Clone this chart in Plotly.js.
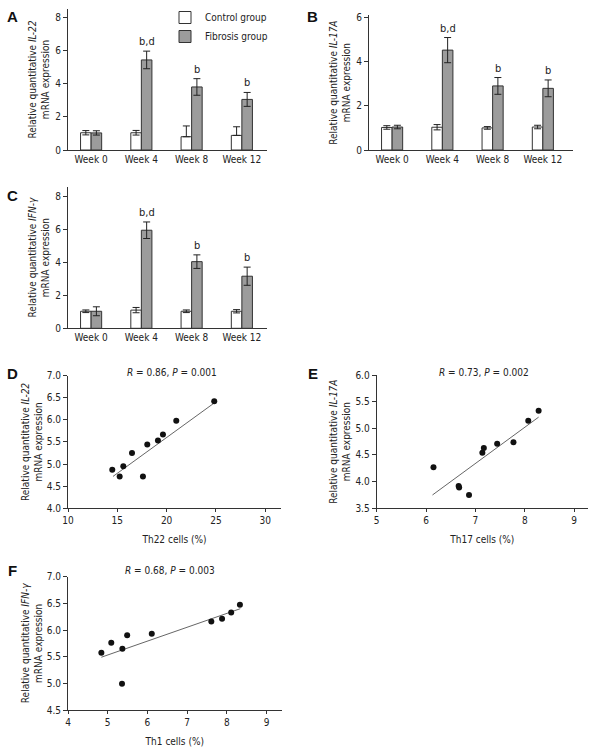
<!DOCTYPE html>
<html><head><meta charset="utf-8">
<script src="https://cdn.plot.ly/plotly-3.0.1.min.js"></script>
<style>html,body{margin:0;padding:0;background:#fff}#chart{width:600px;height:753px}</style>
</head><body><div id="chart"></div>
<script>
// ---- data ----
const weeks = ['Week 0', 'Week 4', 'Week 8', 'Week 12'];

const il22Control = [1.04, 1.04, 0.80, 0.88];
const il22ControlErrUp = [0.13, 0.14, 0.65, 0.52];
const il22ControlErrDown = [0.13, 0.14, 0, 0];
const il22Fibrosis = [1.03, 5.43, 3.80, 3.05];
const il22FibrosisErr = [0.13, 0.53, 0.50, 0.42];
const il22Marks = ['', 'b,d', 'b', 'b'];

const il17Control = [1.02, 1.03, 1.00, 1.04];
const il17ControlErr = [0.08, 0.12, 0.06, 0.08];
const il17Fibrosis = [1.04, 4.52, 2.90, 2.79];
const il17FibrosisErr = [0.08, 0.57, 0.38, 0.38];
const il17Marks = ['', 'b,d', 'b', 'b'];

const ifnControl = [1.03, 1.10, 1.03, 1.03];
const ifnControlErr = [0.08, 0.16, 0.08, 0.10];
const ifnFibrosis = [1.03, 5.93, 4.03, 3.15];
const ifnFibrosisErr = [0.27, 0.50, 0.41, 0.55];
const ifnMarks = ['', 'b,d', 'b', 'b'];

const th22Cells = [14.49, 15.24, 15.61, 16.49, 17.60, 18.04, 19.12, 19.63, 20.98, 24.83];
const th22IL22 = [4.87, 4.72, 4.95, 5.25, 4.72, 5.44, 5.53, 5.67, 5.98, 6.42];
const th22FitX = [14.56, 24.76];
const th22FitY = [4.72, 6.37];

const th17Cells = [6.15, 6.66, 6.67, 6.87, 7.14, 7.17, 7.44, 7.77, 8.07, 8.28];
const th17IL17 = [4.27, 3.92, 3.89, 3.75, 4.54, 4.63, 4.71, 4.74, 5.14, 5.33];
const th17FitX = [6.13, 8.28];
const th17FitY = [3.75, 5.21];

const th1Cells = [4.84, 5.09, 5.37, 5.36, 5.49, 6.11, 7.61, 7.88, 8.11, 8.33];
const th1IFN = [5.575, 5.76, 5.65, 4.99, 5.90, 5.93, 6.16, 6.21, 6.33, 6.475];
const th1FitX = [4.84, 8.34];
const th1FitY = [5.49, 6.40];

const statD = '<i>R</i> = 0.86, <i>P</i> = 0.001';
const statE = '<i>R</i> = 0.73, <i>P</i> = 0.002';
const statF = '<i>R</i> = 0.68, <i>P</i> = 0.003';

// ---- style ----
const FONT = "'DejaVu Sans Condensed', 'DejaVu Sans', sans-serif";
const TXT = '#222';
const W = 600, H = 753;
const px = v => v / W;
const py = v => 1 - v / H;

function barPair(xa, ya, ctrl, ctrlUp, ctrlDown, fib, fibErr, legend) {
  return [
    {type: 'bar', name: 'Control group', x: weeks, y: ctrl, xaxis: xa, yaxis: ya,
     showlegend: legend, legendgroup: 'c',
     marker: {color: '#ffffff', line: {color: '#333', width: 1}},
     error_y: {type: 'data', symmetric: false, array: ctrlUp, arrayminus: ctrlDown, color: '#222', thickness: 1, width: 3.5}},
    {type: 'bar', name: 'Fibrosis group', x: weeks, y: fib, xaxis: xa, yaxis: ya,
     showlegend: legend, legendgroup: 'f',
     marker: {color: '#9c9c9c', line: {color: '#333', width: 1}},
     error_y: {type: 'data', array: fibErr, color: '#222', thickness: 1, width: 3.5}}
  ];
}
function scatterPair(xa, ya, xs, ys, fx, fy) {
  return [
    {type: 'scatter', mode: 'lines', x: fx, y: fy, xaxis: xa, yaxis: ya, showlegend: false,
     line: {color: '#666', width: 1}},
    {type: 'scatter', mode: 'markers', x: xs, y: ys, xaxis: xa, yaxis: ya, showlegend: false,
     marker: {size: 6, color: '#111'}}
  ];
}

const data = [
  ...barPair('x', 'y', il22Control, il22ControlErrUp, il22ControlErrDown, il22Fibrosis, il22FibrosisErr, true),
  ...barPair('x2', 'y2', il17Control, il17ControlErr, il17ControlErr, il17Fibrosis, il17FibrosisErr, false),
  ...barPair('x3', 'y3', ifnControl, ifnControlErr, ifnControlErr, ifnFibrosis, ifnFibrosisErr, false),
  ...scatterPair('x4', 'y4', th22Cells, th22IL22, th22FitX, th22FitY),
  ...scatterPair('x5', 'y5', th17Cells, th17IL17, th17FitX, th17FitY),
  ...scatterPair('x6', 'y6', th1Cells, th1IFN, th1FitX, th1FitY)
];

const tickfont = {family: FONT, size: 10, color: TXT};
const titlefont = {family: FONT, size: 10, color: TXT};
function yax(dom, range, dtick, title, anchor, fmt, so) {
  return {domain: dom, range: range, dtick: dtick, anchor: anchor, showgrid: false, zeroline: false,
    showline: true, linecolor: '#333', linewidth: 1, ticks: 'outside', ticklen: 4, tickcolor: '#333',
    tickfont: tickfont, tickformat: fmt || '', fixedrange: true,
    title: {text: title, font: titlefont, standoff: so}};
}
function xcat(dom, range, anchor) {
  return {domain: dom, range: range, type: 'category', anchor: anchor, showgrid: false, zeroline: false,
    showline: true, linecolor: '#333', linewidth: 1, ticks: '', tickfont: tickfont, fixedrange: true};
}
function xlin(dom, range, dtick, title, anchor) {
  return {domain: dom, range: range, dtick: dtick, anchor: anchor, showgrid: false, zeroline: false,
    showline: true, linecolor: '#333', linewidth: 1, ticks: 'outside', ticklen: 3, tickcolor: '#333',
    tickfont: tickfont, fixedrange: true, title: {text: title, font: titlefont, standoff: 10}};
}

const annotations = [];
function letter(t, x, y) {
  annotations.push({text: '<b>' + t + '</b>', xref: 'paper', yref: 'paper', x: px(x), y: py(y),
    xanchor: 'center', yanchor: 'middle', showarrow: false,
    font: {family: "'Liberation Sans', Arial, sans-serif", size: 15, color: '#111'}});
}
letter('A', 12, 17); letter('B', 312, 17); letter('C', 12, 195);
letter('D', 12, 373); letter('E', 313, 373); letter('F', 12, 570);

function marks(xa, ya, labels, vals, errs) {
  labels.forEach((t, i) => {
    if (!t) return;
    annotations.push({text: t, xref: xa, yref: ya, x: i + 0.105, y: vals[i] + errs[i],
      xanchor: 'center', yanchor: 'bottom', yshift: 1, showarrow: false,
      font: {family: FONT, size: 11, color: TXT}});
  });
}
marks('x', 'y', il22Marks, il22Fibrosis, il22FibrosisErr);
marks('x2', 'y2', il17Marks, il17Fibrosis, il17FibrosisErr);
marks('x3', 'y3', ifnMarks, ifnFibrosis, ifnFibrosisErr);

function stat(t, x, y) {
  annotations.push({text: t, xref: 'paper', yref: 'paper', x: px(x), y: py(y),
    xanchor: 'center', yanchor: 'middle', showarrow: false, font: {family: FONT, size: 10, color: TXT}});
}
stat(statD, 172, 372); stat(statE, 484, 372); stat(statF, 170, 570);

const layout = {
  width: W, height: H, margin: {l: 0, r: 0, t: 0, b: 0},
  paper_bgcolor: '#fff', plot_bgcolor: 'rgba(0,0,0,0)',
  barmode: 'group', bargap: 0.58, bargroupgap: 0,
  font: {family: FONT, size: 10, color: TXT},
  showlegend: true,
  legend: {x: px(165), y: py(3), xanchor: 'left', yanchor: 'top', bgcolor: 'rgba(0,0,0,0)',
    font: {family: FONT, size: 10, color: TXT}, tracegroupgap: 0},
  xaxis: xcat([px(68), px(267)], [-0.46, 3.5], 'y'),
  yaxis: yax([py(150), py(9)], [0, 8.5], 2, 'Relative quantitative <i>IL-22</i><br>mRNA expression', 'x', '', 3),
  xaxis2: xcat([px(369), px(573)], [-0.46, 3.6], 'y2'),
  yaxis2: yax([py(150), py(15.2)], [0, 6.1], 2, 'Relative quantitative <i>IL-17A</i><br>mRNA expression', 'x2', '', 3),
  xaxis3: xcat([px(68), px(267)], [-0.46, 3.5], 'y3'),
  yaxis3: yax([py(328.3), py(186.9)], [0, 8.55], 2, 'Relative quantitative <i>IFN-γ</i><br>mRNA expression', 'x3', '', 3),
  xaxis4: xlin([px(68), px(281)], [10, 31.6], 5, 'Th22 cells (%)', 'y4'),
  yaxis4: yax([py(508.3), py(375.6)], [4, 7], 0.5, 'Relative quantitative <i>IL-22</i><br>mRNA expression', 'x4', '.1f', 2),
  xaxis5: xlin([px(376.7), px(588)], [5, 9.28], 1, 'Th17 cells (%)', 'y5'),
  yaxis5: yax([py(508.3), py(375)], [3.5, 6.0], 0.5, 'Relative quantitative <i>IL-17A</i><br>mRNA expression', 'x5', '.1f', 2),
  xaxis6: xlin([px(68), px(281.6)], [4, 9.38], 1, 'Th1 cells (%)', 'y6'),
  yaxis6: yax([py(710), py(576.7)], [4.5, 7.0], 0.5, 'Relative quantitative <i>IFN-γ</i><br>mRNA expression', 'x6', '.1f', 2),
  annotations: annotations
};

Plotly.newPlot('chart', data, layout, {staticPlot: true, displayModeBar: false});
</script>
</body></html>
